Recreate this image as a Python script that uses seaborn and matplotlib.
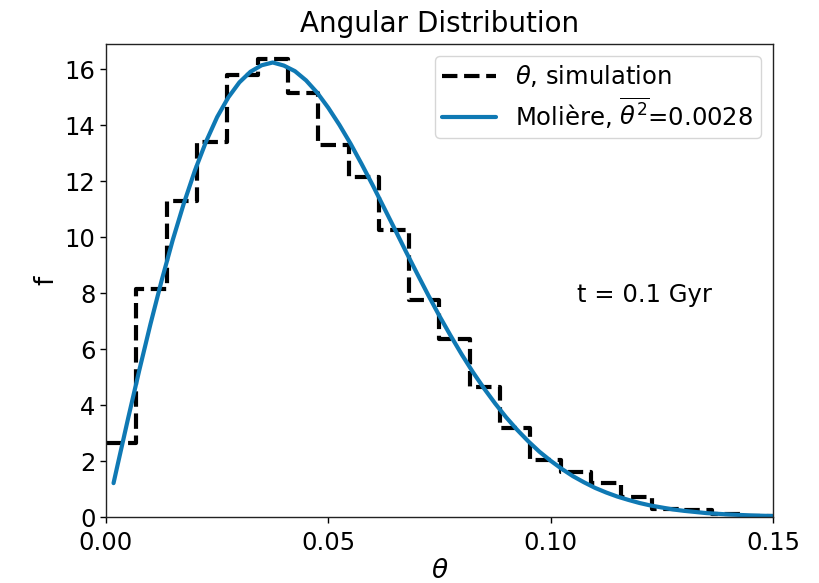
import numpy as np
import pandas as pd
import matplotlib
matplotlib.use("Agg")
import matplotlib.pyplot as plt
import seaborn as sns

# ---- data ----
hist_values = [2.64, 8.14, 11.3, 13.4, 15.8, 16.35, 15.15, 13.3, 12.15, 10.25,
               7.75, 6.35, 4.65, 3.18, 2.05, 1.62, 1.2, 0.7, 0.27, 0.25, 0.1, 0.05]
hist_range = (0.0, 0.15)

curve_theta = [0.0017, 0.0025, 0.005, 0.0075, 0.01, 0.0125, 0.015, 0.0175, 0.02, 0.0225,
               0.025, 0.0275, 0.03, 0.0325, 0.035, 0.0375, 0.04, 0.0425, 0.045, 0.0475,
               0.05, 0.0525, 0.055, 0.0575, 0.06, 0.0625, 0.065, 0.0675, 0.07, 0.0725,
               0.075, 0.0775, 0.08, 0.0825, 0.085, 0.0875, 0.09, 0.0925, 0.095, 0.0975,
               0.10, 0.1025, 0.105, 0.1075, 0.11, 0.1125, 0.115, 0.1175, 0.12, 0.1225,
               0.125, 0.1275, 0.13, 0.135, 0.14, 0.145, 0.15]
curve_f = [1.21, 1.78, 3.54, 5.25, 6.89, 8.44, 9.89, 11.20, 12.38, 13.41,
           14.29, 14.99, 15.53, 15.91, 16.14, 16.24, 16.13, 15.93, 15.60, 15.16,
           14.62, 14.01, 13.34, 12.61, 11.85, 11.06, 10.27, 9.47, 8.69, 7.92,
           7.18, 6.48, 5.81, 5.18, 4.60, 4.06, 3.56, 3.11, 2.70, 2.33,
           2.01, 1.72, 1.46, 1.24, 1.04, 0.875, 0.73, 0.61, 0.50, 0.41,
           0.34, 0.27, 0.22, 0.14, 0.091, 0.057, 0.035]

sim_label = r"$\theta$, simulation"
fit_label = r"Molière, $\overline{\theta^2}$=0.0028"
title = "Angular Distribution"
annotation = "t = 0.1 Gyr"

# ---- plotting ----
sns.set_theme(style="ticks", rc={"text.color": "black", "axes.labelcolor": "black",
                                 "xtick.color": "black", "ytick.color": "black",
                                 "axes.edgecolor": "black"})
plt.rcParams["font.family"] = ["DejaVu Sans"]
plt.rcParams["mathtext.fontset"] = "dejavusans"

fig = plt.figure(figsize=(8.19, 5.83), dpi=100)
ax = fig.add_axes([0.1294, 0.1132, 0.8144, 0.8113])

n_bins = len(hist_values)
width = (hist_range[1] - hist_range[0]) / n_bins
centers = hist_range[0] + width * (np.arange(n_bins) + 0.5)
hist_df = pd.DataFrame({"theta": centers, "w": hist_values})
sns.histplot(data=hist_df, x="theta", weights="w", bins=n_bins, binrange=hist_range,
             element="step", fill=False, color="black", linestyle="--",
             linewidth=3, ax=ax, label=sim_label)

curve_df = pd.DataFrame({"theta": curve_theta, "f": curve_f})
sns.lineplot(data=curve_df, x="theta", y="f", color="#0f79b4", linewidth=3,
             ax=ax, label=fit_label)

ax.set_xlim(0, 0.15)
ax.set_ylim(0, 16.9)
ax.set_xticks([0.0, 0.05, 0.10, 0.15])
ax.set_xticklabels(["0.00", "0.05", "0.10", "0.15"])
ax.set_yticks(range(0, 17, 2))
ax.tick_params(labelsize=17.5, length=4, width=1, colors="black")
ax.tick_params(axis="x", pad=6)
for s in ax.spines.values():
    s.set_linewidth(1)
    s.set_color("#222222")

ax.set_xlabel(r"$\theta$", fontsize=19, labelpad=2)
ax.set_ylabel("f", fontsize=19)
ax.set_title(title, fontsize=20, pad=9)

ax.text(0.106, 7.95, annotation, fontsize=17.5, ha="left", va="center")

leg = ax.legend(loc="upper right", fontsize=17.5, handlelength=2.2, frameon=True,
                borderaxespad=0.5, labelspacing=0.25, borderpad=0.3)
leg.get_frame().set_edgecolor("#cccccc")

fig.savefig("out.png", dpi=100)
